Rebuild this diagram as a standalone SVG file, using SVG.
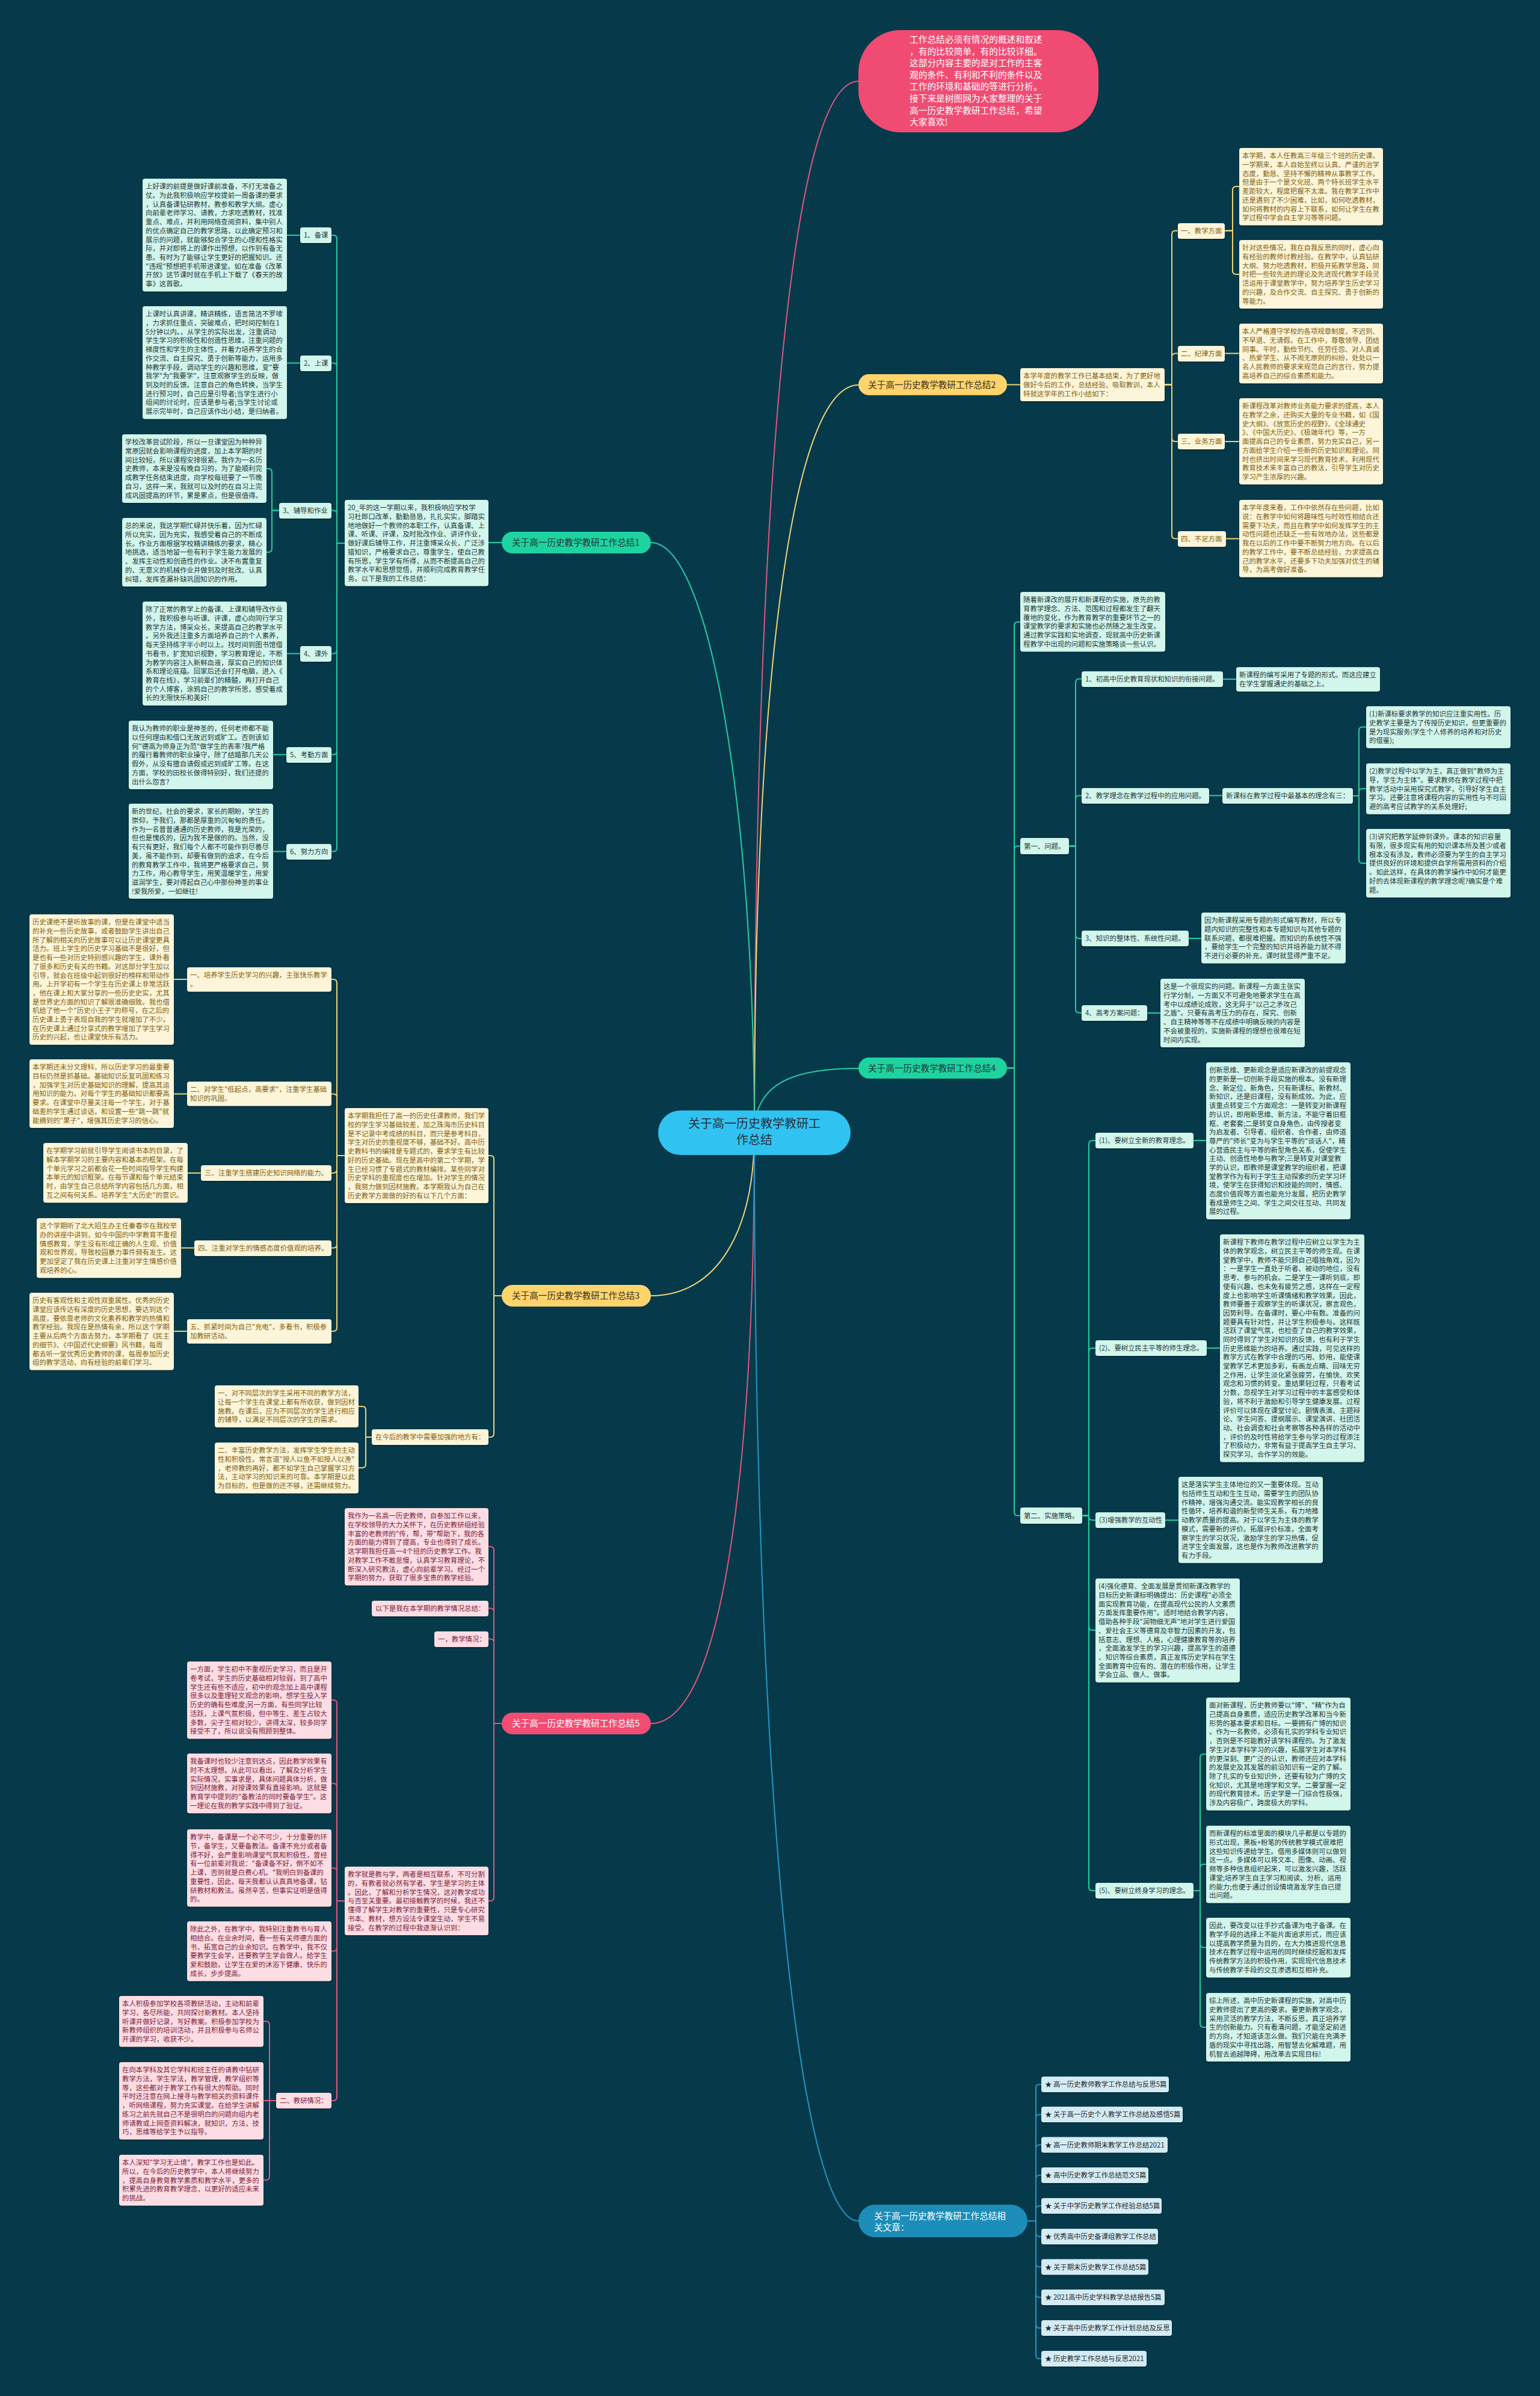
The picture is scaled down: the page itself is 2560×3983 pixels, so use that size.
<svg xmlns="http://www.w3.org/2000/svg" width="2560" height="3983" viewBox="0 0 2560 3983">
<defs>
<filter id="sh" x="-5%" y="-5%" width="110%" height="115%"><feDropShadow dx="0" dy="1.5" stdDeviation="1" flood-color="#000" flood-opacity="0.35"/></filter>
<style>
text{font-family:"Noto Sans CJK SC","Microsoft YaHei","Liberation Sans",sans-serif}
.t{font-size:11.4px}
.bg{fill:#D2F5EC;filter:url(#sh)}.by{fill:#FDF5D9;filter:url(#sh)}.bp{fill:#FDDDE4;filter:url(#sh)}.bb{fill:#D4EBF3;filter:url(#sh)}
.tg{fill:#263838}.ty{fill:#7D600F}.tp{fill:#7A2238}.tb{fill:#1E2A30}
.c{fill:none;stroke-width:2}
.cg{stroke:#29CCA0}.cy{stroke:#EFD27A}.cp{stroke:#E0557F}.cb{stroke:#2796C4}
.lab{font-size:14.6px}
</style>
</defs>
<rect width="2560" height="3983" fill="#063A4B"/>
<g id="connectors">
<path class="c cp" d="M1254,1883 C1254,1000 1300,135 1427,135"/>
<path class="c cy" d="M1254,1883 C1254,1100 1320,640 1427,640"/>
<path class="c cg" d="M1254,1883 C1254,1350 1180,902 1082,902"/>
<path class="c cg" d="M1254,1883 C1254,1800 1320,1776 1427,1776"/>
<path class="c cy" d="M1254,1883 C1254,2050 1190,2154 1082,2154"/>
<path class="c cp" d="M1254,1883 C1254,2450 1200,2865 1082,2865"/>
<path class="c cb" d="M1254,1883 C1254,3000 1330,3692 1427,3692"/>
<g class="c cg">
<path d="M834,902 H812"/>
<path d="M573,903 H560 V397 Q560,391 554,391 H551"/>
<path d="M573,903 H560 V609.5 Q560,603.5 554,603.5 H551"/>
<path d="M573,903 H560 V854.5 Q560,848.5 554,848.5 H551"/>
<path d="M573,903 H560 V1080.5 Q560,1086.5 554,1086.5 H551"/>
<path d="M573,903 H560 V1248.5 Q560,1254.5 554,1254.5 H551"/>
<path d="M573,903 H560 V1409.5 Q560,1415.5 554,1415.5 H551"/>
<path d="M499,391 H477"/>
<path d="M499,603.5 H477"/>
<path d="M464,848.5 H452 V785 Q452,779 446,779 H443"/>
<path d="M464,848.5 H452 V912 Q452,918 446,918 H443"/>
<path d="M499,1086.5 H477"/>
<path d="M476,1254.5 H454"/>
<path d="M476,1415.5 H454"/>
<path d="M1674,1775.5 H1686 V1040 Q1686,1034 1692,1034 H1696"/>
<path d="M1674,1775.5 H1686 V1412.5 Q1686,1406.5 1692,1406.5 H1696"/>
<path d="M1674,1775.5 H1686 V2513.5 Q1686,2519.5 1692,2519.5 H1696"/>
<path d="M1777,1406.5 H1788 V1134.5 Q1788,1128.5 1794,1128.5 H1798"/>
<path d="M1777,1406.5 H1788 V1328.5 Q1788,1322.5 1794,1322.5 H1798"/>
<path d="M1777,1406.5 H1788 V1554 Q1788,1560 1794,1560 H1798"/>
<path d="M1777,1406.5 H1788 V1677.5 Q1788,1683.5 1794,1683.5 H1798"/>
<path d="M2033,1129 H2055"/>
<path d="M2010,1322.5 H2032"/>
<path d="M2249,1323 H2259 V1214.5 Q2259,1208.5 2265,1208.5 H2271"/>
<path d="M2249,1323 H2259 V1317 Q2259,1311 2265,1311 H2271"/>
<path d="M2249,1323 H2259 V1429 Q2259,1435 2265,1435 H2271"/>
<path d="M1976,1560 H1997"/>
<path d="M1907,1684 H1929"/>
<path d="M1799,2519.5 H1810 V1902 Q1810,1896 1816,1896 H1821"/>
<path d="M1799,2519.5 H1810 V2247 Q1810,2241 1816,2241 H1821"/>
<path d="M1799,2519.5 H1810 V2521 Q1810,2527 1816,2527 H1821"/>
<path d="M1799,2519.5 H1810 V2704 Q1810,2710 1816,2710 H1821"/>
<path d="M1799,2519.5 H1810 V3137 Q1810,3143 1816,3143 H1821"/>
<path d="M1984,1896 H2005"/>
<path d="M2006,2241 H2028"/>
<path d="M1937,2527 H1959"/>
<path d="M1984,3143 H1995 V2922 Q1995,2916 2001,2916 H2005"/>
<path d="M1984,3143 H1995 V3105 Q1995,3099 2001,3099 H2005"/>
<path d="M1984,3143 H1995 V3231.5 Q1995,3237.5 2001,3237.5 H2005"/>
<path d="M1984,3143 H1995 V3364 Q1995,3370 2001,3370 H2005"/>
</g>
<g class="c cy">
<path d="M1674,639.5 H1696"/>
<path d="M1936,639.5 H1948 V389.5 Q1948,383.5 1954,383.5 H1958"/>
<path d="M1936,639.5 H1948 V593.5 Q1948,587.5 1954,587.5 H1958"/>
<path d="M1936,639.5 H1948 V728 Q1948,734 1954,734 H1958"/>
<path d="M1936,639.5 H1948 V889.5 Q1948,895.5 1954,895.5 H1958"/>
<path d="M2036,383.5 H2049 V316 Q2049,310 2055,310 H2060"/>
<path d="M2036,383.5 H2049 V450 Q2049,456 2055,456 H2060"/>
<path d="M2036,587.5 H2060"/>
<path d="M2036,734 H2060"/>
<path d="M2038,895.5 H2060"/>
<path d="M834,2154 H821 V1927 Q821,1921 815,1921 H812"/>
<path d="M834,2154 H821 V2383 Q821,2389 815,2389 H812"/>
<path d="M573,1921 H560 V1634 Q560,1628 554,1628 H551"/>
<path d="M573,1921 H560 V1824.5 Q560,1818.5 554,1818.5 H551"/>
<path d="M573,1921 H560 V1944 Q560,1950 554,1950 H551"/>
<path d="M573,1921 H560 V2068.5 Q560,2074.5 554,2074.5 H551"/>
<path d="M573,1921 H560 V2207 Q560,2213 554,2213 H551"/>
<path d="M311,1628 H289"/>
<path d="M311,1818.5 H289"/>
<path d="M334,1950 H312"/>
<path d="M323,2074.5 H301"/>
<path d="M311,2213 H289"/>
<path d="M618,2389 H608 V2344 Q608,2338 602,2338 H596"/>
<path d="M618,2389 H608 V2434 Q608,2440 602,2440 H596"/>
</g>
<g class="c cp">
<path d="M834,2865 H821 V2577 Q821,2571 815,2571 H812"/>
<path d="M834,2865 H821 V2679.5 Q821,2673.5 815,2673.5 H812"/>
<path d="M834,2865 H821 V2730.5 Q821,2724.5 815,2724.5 H812"/>
<path d="M834,2865 H821 V3154 Q821,3160 815,3160 H812"/>
<path d="M573,3160 H560 V2832 Q560,2826 554,2826 H551"/>
<path d="M573,3160 H560 V2970.6 Q560,2964.6 554,2964.6 H551"/>
<path d="M573,3160 H560 V3111.3 Q560,3105.3 554,3105.3 H551"/>
<path d="M573,3160 H560 V3237.6 Q560,3243.6 554,3243.6 H551"/>
<path d="M573,3160 H560 V3486 Q560,3492 554,3492 H551"/>
<path d="M459,3492 H448 V3366 Q448,3360 442,3360 H438"/>
<path d="M459,3492 H438"/>
<path d="M459,3492 H448 V3618 Q448,3624 442,3624 H438"/>
</g>
<g class="c cb">
<path d="M1708,3692 H1722 V3471 Q1722,3465 1728,3465 H1731"/>
<path d="M1708,3692 H1722 V3521 Q1722,3515 1728,3515 H1731"/>
<path d="M1708,3692 H1722 V3571.5 Q1722,3565.5 1728,3565.5 H1731"/>
<path d="M1708,3692 H1722 V3622 Q1722,3616 1728,3616 H1731"/>
<path d="M1708,3692 H1722 V3673 Q1722,3667 1728,3667 H1731"/>
<path d="M1708,3692 H1722 V3712 Q1722,3718 1728,3718 H1731"/>
<path d="M1708,3692 H1722 V3762.5 Q1722,3768.5 1728,3768.5 H1731"/>
<path d="M1708,3692 H1722 V3813 Q1722,3819 1728,3819 H1731"/>
<path d="M1708,3692 H1722 V3864 Q1722,3870 1728,3870 H1731"/>
<path d="M1708,3692 H1722 V3915 Q1722,3921 1728,3921 H1731"/>
</g>
</g>

<g id="n_center"><rect x="1094" y="1846" width="320" height="74" rx="37" fill="#30C3F2"/><text x="1254" y="1875" font-size="20" text-anchor="middle" fill="#2A3038">关于高一历史教学教研工<tspan x="1254" dy="27">作总结</tspan></text></g>

<g id="n_top"><rect x="1427" y="50" width="399" height="170" rx="70" fill="#F04B72"/><text x="1512" y="71" font-size="14.7" fill="#FFFFFF"><tspan x="1512">工作总结必须有情况的概述和叙述</tspan><tspan x="1512" dy="19.6">，有的比较简单，有的比较详细。</tspan><tspan x="1512" dy="19.6">这部分内容主要的是对工作的主客</tspan><tspan x="1512" dy="19.6">观的条件、有利和不利的条件以及</tspan><tspan x="1512" dy="19.6">工作的环境和基础的等进行分析。</tspan><tspan x="1512" dy="19.6">接下来是树图网为大家整理的关于</tspan><tspan x="1512" dy="19.6">高一历史教学教研工作总结，希望</tspan><tspan x="1512" dy="19.6">大家喜欢!</tspan></text></g>

<g id="b1"><rect x="834" y="884" width="248" height="36" rx="18" fill="#1ED3A0"/><text class="lab" x="851" y="907" fill="#1F3535">关于高一历史教学教研工作总结1</text></g>
<g id="b2"><rect x="1427" y="622" width="247" height="35" rx="17.5" fill="#FFD46C"/><text class="lab" x="1443" y="644.5" fill="#3A3020">关于高一历史教学教研工作总结2</text></g>
<g id="b3"><rect x="834" y="2136" width="248" height="36" rx="18" fill="#FFD46C"/><text class="lab" x="851" y="2159" fill="#3A3020">关于高一历史教学教研工作总结3</text></g>
<g id="b4"><rect x="1427" y="1758" width="247" height="35" rx="17.5" fill="#1ED3A0"/><text class="lab" x="1443" y="1780.5" fill="#1F3535">关于高一历史教学教研工作总结4</text></g>
<g id="b5"><rect x="834" y="2847" width="248" height="36" rx="18" fill="#F24C72"/><text class="lab" x="851" y="2870" fill="#FFFFFF">关于高一历史教学教研工作总结5</text></g>
<g id="b6"><rect x="1427" y="3665" width="281" height="54" rx="27" fill="#1C8DB8"/><text class="lab" x="1453" y="3689" fill="#FFFFFF">关于高一历史教学教研工作总结相<tspan x="1453" dy="19">关文章：</tspan></text></g>

<!-- Branch 1 -->
<g id="b1_intro" transform="translate(573,831)"><rect class="bg" width="239" height="143.3" rx="4"/><text class="t tg" y="17.3"><tspan x="5">20_年的这一学期以来，我积极响应学校学</tspan><tspan x="5" dy="14.7">习杜郎口改革，勤勤恳恳，扎扎实实，脚踏实</tspan><tspan x="5" dy="14.7">地地做好一个教师的本职工作，认真备课、上</tspan><tspan x="5" dy="14.7">课、听课、评课，及时批改作业、讲评作业，</tspan><tspan x="5" dy="14.7">做好课后辅导工作，并注重博采众长，广泛涉</tspan><tspan x="5" dy="14.7">猎知识，严格要求自己，尊重学生，使自己教</tspan><tspan x="5" dy="14.7">有所思，学生学有所得，从而不断提高自己的</tspan><tspan x="5" dy="14.7">教学水平和思想觉悟，并顺利完成教育教学任</tspan><tspan x="5" dy="14.7">务。以下是我的工作总结：</tspan></text></g>
<g id="b1_1" transform="translate(499,378)"><rect class="bg" width="52" height="26" rx="4"/><text class="t tg" x="6" y="17.3">1、备课</text></g>
<g id="b1_2" transform="translate(499,591)"><rect class="bg" width="52" height="26" rx="4"/><text class="t tg" x="6" y="17.3">2、上课</text></g>
<g id="b1_3" transform="translate(464,836)"><rect class="bg" width="87" height="26" rx="4"/><text class="t tg" x="6" y="17.3">3、辅导和作业</text></g>
<g id="b1_4" transform="translate(499,1074)"><rect class="bg" width="52" height="26" rx="4"/><text class="t tg" x="6" y="17.3">4、课外</text></g>
<g id="b1_5" transform="translate(476,1242)"><rect class="bg" width="75" height="26" rx="4"/><text class="t tg" x="6" y="17.3">5、考勤方面</text></g>
<g id="b1_6" transform="translate(476,1403)"><rect class="bg" width="75" height="26" rx="4"/><text class="t tg" x="6" y="17.3">6、努力方向</text></g>
<g id="b1_1a" transform="translate(237,297)"><rect class="bg" width="240" height="187.4" rx="4"/><text class="t tg" y="17.3"><tspan x="5">上好课的前提是做好课前准备，不打无准备之</tspan><tspan x="5" dy="14.7">仗。为此我积极响应学校提前一周备课的要求</tspan><tspan x="5" dy="14.7">，认真备课钻研教材，教参和教学大纲。虚心</tspan><tspan x="5" dy="14.7">向前辈老师学习、请教，力求吃透教材，找准</tspan><tspan x="5" dy="14.7">重点、难点，并利用网络查阅资料，集中别人</tspan><tspan x="5" dy="14.7">的优点确定自己的教学思路，以此确定预习和</tspan><tspan x="5" dy="14.7">展示的问题，就能够契合学生的心理和性格实</tspan><tspan x="5" dy="14.7">际，并对即将上的课作出预想，以作到有备无</tspan><tspan x="5" dy="14.7">患。有时为了能够让学生更好的把握知识。还</tspan><tspan x="5" dy="14.7">"违规"预想把手机带进课堂。如在准备《改革</tspan><tspan x="5" dy="14.7">开放》这节课时就在手机上下载了《春天的故</tspan><tspan x="5" dy="14.7">事》这首歌。</tspan></text></g>
<g id="b1_2a" transform="translate(237,509)"><rect class="bg" width="240" height="187.4" rx="4"/><text class="t tg" y="17.3"><tspan x="5">上课时认真讲课，精讲精练，语言简洁不罗嗦</tspan><tspan x="5" dy="14.7">，力求抓住重点，突破难点，把时间控制在1</tspan><tspan x="5" dy="14.7">5分钟以内。，从学生的实际出发，注重调动</tspan><tspan x="5" dy="14.7">学生学习的积极性和创造性思维，注重问题的</tspan><tspan x="5" dy="14.7">梯度性和学生的主体性，并着力培养学生的合</tspan><tspan x="5" dy="14.7">作交流、自主探究、勇于创新等能力，运用多</tspan><tspan x="5" dy="14.7">种教学手段，调动学生的兴趣和思维，变"要</tspan><tspan x="5" dy="14.7">我学"为"我要学"，注意观察学生的反映，做</tspan><tspan x="5" dy="14.7">到及时的反馈。注意自己的角色转换，当学生</tspan><tspan x="5" dy="14.7">进行预习时，自己应是引导者;当学生进行小</tspan><tspan x="5" dy="14.7">组间的讨论时，应该是参与者;当学生讨论或</tspan><tspan x="5" dy="14.7">展示完毕时，自己应该作出小结，是归纳者。</tspan></text></g>
<g id="b1_3a" transform="translate(203,722)"><rect class="bg" width="240" height="113.9" rx="4"/><text class="t tg" y="17.3"><tspan x="5">学校改革尝试阶段，所以一旦课堂因为种种异</tspan><tspan x="5" dy="14.7">常原因就会影响课程的进度，加上本学期的时</tspan><tspan x="5" dy="14.7">间比较短，所以课程安排很紧。我作为一名历</tspan><tspan x="5" dy="14.7">史教师，本来是没有晚自习的，为了能顺利完</tspan><tspan x="5" dy="14.7">成教学任务结束进度，向学校每班要了一节晚</tspan><tspan x="5" dy="14.7">自习，这样一来，我就可以及时的在自习上完</tspan><tspan x="5" dy="14.7">成巩固提高的环节，累是累点，但是很值得。</tspan></text></g>
<g id="b1_3b" transform="translate(203,861)"><rect class="bg" width="240" height="113.9" rx="4"/><text class="t tg" y="17.3"><tspan x="5">总的来说，我这学期忙碌并快乐着，因为忙碌</tspan><tspan x="5" dy="14.7">所以充实，因为充实，我感受着自己的不断成</tspan><tspan x="5" dy="14.7">长。作业方面根据学校精讲精练的要求，精心</tspan><tspan x="5" dy="14.7">地挑选，适当地留一些有利于学生能力发展的</tspan><tspan x="5" dy="14.7">、发挥主动性和创造性的作业。决不布置重复</tspan><tspan x="5" dy="14.7">的、无意义的机械作业并做到及时批改、认真</tspan><tspan x="5" dy="14.7">纠错，发挥查漏补缺巩固知识的作用。</tspan></text></g>
<g id="b1_4a" transform="translate(237,1000)"><rect class="bg" width="240" height="172.7" rx="4"/><text class="t tg" y="17.3"><tspan x="5">除了正常的教学上的备课、上课和辅导改作业</tspan><tspan x="5" dy="14.7">外，我积极参与听课、评课，虚心向同行学习</tspan><tspan x="5" dy="14.7">教学方法，博采众长，来提高自己的教学水平</tspan><tspan x="5" dy="14.7">。另外我还注重多方面培养自己的个人素养，</tspan><tspan x="5" dy="14.7">每天坚持练字半小时以上。找时间到图书馆借</tspan><tspan x="5" dy="14.7">书看书，扩宽知识视野，学习教育理论，不断</tspan><tspan x="5" dy="14.7">为教学内容注入新鲜血液，厚实自己的知识体</tspan><tspan x="5" dy="14.7">系和理论底蕴。回家后还会打开电脑，进入《</tspan><tspan x="5" dy="14.7">教育在线》，学习前辈们的精髓，再打开自己</tspan><tspan x="5" dy="14.7">的个人博客，涂鸦自己的教学所思，感受着成</tspan><tspan x="5" dy="14.7">长的无限快乐和美好!</tspan></text></g>
<g id="b1_5a" transform="translate(214,1198)"><rect class="bg" width="240" height="113.9" rx="4"/><text class="t tg" y="17.3"><tspan x="5">我认为教师的职业是神圣的，任何老师都不能</tspan><tspan x="5" dy="14.7">以任何理由和借口无故迟到或旷工。否则该如</tspan><tspan x="5" dy="14.7">何"德高为师身正为范"做学生的表率?我严格</tspan><tspan x="5" dy="14.7">的履行着教师的职业操守，除了结婚那几天公</tspan><tspan x="5" dy="14.7">假外，从没有擅自请假或迟到或旷工等。在这</tspan><tspan x="5" dy="14.7">方面，学校的田校长做得特别好，我们还提的</tspan><tspan x="5" dy="14.7">出什么怨言?</tspan></text></g>
<g id="b1_6a" transform="translate(214,1336)"><rect class="bg" width="240" height="158" rx="4"/><text class="t tg" y="17.3"><tspan x="5">新的世纪，社会的要求，家长的期盼，学生的</tspan><tspan x="5" dy="14.7">崇仰，予我们，那都是厚重的沉甸甸的责任。</tspan><tspan x="5" dy="14.7">作为一名普普通通的历史教师，我是光荣的，</tspan><tspan x="5" dy="14.7">但也是愧疚的，因为我不是做的的。当然，没</tspan><tspan x="5" dy="14.7">有只有更好，我们每个人都不可能作到尽善尽</tspan><tspan x="5" dy="14.7">美，虽不能作到，却要有做到的追求，在今后</tspan><tspan x="5" dy="14.7">的教育教学工作中，我将更严格要求自己，努</tspan><tspan x="5" dy="14.7">力工作，用心教导学生，用笑温暖学生，用爱</tspan><tspan x="5" dy="14.7">滋润学生，要对得起自己心中那份神圣的事业</tspan><tspan x="5" dy="14.7">!爱我所爱，一如继往!</tspan></text></g>

<!-- Branch 2 -->
<g id="b2_intro" transform="translate(1696,612)"><rect class="by" width="240" height="55" rx="4"/><text class="t ty" y="17.3"><tspan x="5">本学年度的教学工作已基本结束，为了更好地</tspan><tspan x="5" dy="14.7">做好今后的工作，总结经验、吸取教训，本人</tspan><tspan x="5" dy="14.7">特就这学年的工作小结如下：</tspan></text></g>
<g id="b2_1" transform="translate(1958,371)"><rect class="by" width="78" height="26" rx="4"/><text class="t ty" x="5" y="17.3">一、教学方面</text></g>
<g id="b2_2" transform="translate(1958,575)"><rect class="by" width="78" height="26" rx="4"/><text class="t ty" x="5" y="17.3">二、纪律方面</text></g>
<g id="b2_3" transform="translate(1958,721)"><rect class="by" width="78" height="26" rx="4"/><text class="t ty" x="5" y="17.3">三、业务方面</text></g>
<g id="b2_4" transform="translate(1958,883)"><rect class="by" width="80" height="26" rx="4"/><text class="t ty" x="5" y="17.3">四、不足方面</text></g>
<g id="b2_1a" transform="translate(2060,246)"><rect class="by" width="239" height="128.6" rx="4"/><text class="t ty" y="17.3"><tspan x="5">本学期，本人任教高三年级三个班的历史课。</tspan><tspan x="5" dy="14.7">一学期来，本人自始至终以认真、严谨的治学</tspan><tspan x="5" dy="14.7">态度，勤恳、坚持不懈的精神从事教学工作。</tspan><tspan x="5" dy="14.7">但是由于一个是文化班、两个特长班学生水平</tspan><tspan x="5" dy="14.7">差距较大，程度把握不太准。我在教学工作中</tspan><tspan x="5" dy="14.7">还是遇到了不少困难，比如，如何吃透教材，</tspan><tspan x="5" dy="14.7">如何将教材的内容上下联系，如何让学生在教</tspan><tspan x="5" dy="14.7">学过程中学会自主学习等等问题。</tspan></text></g>
<g id="b2_1b" transform="translate(2060,399)"><rect class="by" width="239" height="113.9" rx="4"/><text class="t ty" y="17.3"><tspan x="5">针对这些情况，我在自我反思的同时，虚心向</tspan><tspan x="5" dy="14.7">有经验的教师讨教经验。在教学中，认真钻研</tspan><tspan x="5" dy="14.7">大纲、努力吃透教材，积极开拓教学思路，同</tspan><tspan x="5" dy="14.7">时把一些较先进的理论及先进现代教学手段灵</tspan><tspan x="5" dy="14.7">活运用于课堂教学中，努力培养学生历史学习</tspan><tspan x="5" dy="14.7">的兴趣，及合作交流、自主探究、勇于创新的</tspan><tspan x="5" dy="14.7">等能力。</tspan></text></g>
<g id="b2_2a" transform="translate(2060,538)"><rect class="by" width="239" height="99.2" rx="4"/><text class="t ty" y="17.3"><tspan x="5">本人严格遵守学校的各项规章制度，不迟到、</tspan><tspan x="5" dy="14.7">不早退、无请假。在工作中，尊敬领导、团结</tspan><tspan x="5" dy="14.7">同事。平时，勤俭节约、任劳任怨、对人真诚</tspan><tspan x="5" dy="14.7">、热爱学生、从不闹无原则的纠纷，处处以一</tspan><tspan x="5" dy="14.7">名人民教师的要求来规范自己的言行，努力提</tspan><tspan x="5" dy="14.7">高培养自己的综合素质和能力。</tspan></text></g>
<g id="b2_3a" transform="translate(2060,662)"><rect class="by" width="239" height="143.3" rx="4"/><text class="t ty" y="17.3"><tspan x="5">新课程改革对教师业务能力要求的提高，本人</tspan><tspan x="5" dy="14.7">在教学之余，还购买大量的专业书籍，如《国</tspan><tspan x="5" dy="14.7">史大纲》、《放宽历史的视野》、《全球通史</tspan><tspan x="5" dy="14.7">》、《中国大历史》、《极端年代》等，一方</tspan><tspan x="5" dy="14.7">面提高自己的专业素质，努力充实自己，另一</tspan><tspan x="5" dy="14.7">方面给学生介绍一些新的历史知识和理论。同</tspan><tspan x="5" dy="14.7">时也挤出时间来学习现代教育技术，利用现代</tspan><tspan x="5" dy="14.7">教育技术来丰富自己的教法，引导学生对历史</tspan><tspan x="5" dy="14.7">学习产生浓厚的兴趣。</tspan></text></g>
<g id="b2_4a" transform="translate(2060,831)"><rect class="by" width="239" height="128.6" rx="4"/><text class="t ty" y="17.3"><tspan x="5">本学年度来看，工作中依然存在些问题，比如</tspan><tspan x="5" dy="14.7">说：在教学中如何将趣味性与时效性相结合还</tspan><tspan x="5" dy="14.7">需要下功夫，而且在教学中如何发挥学生的主</tspan><tspan x="5" dy="14.7">动性问题也还缺乏一些有效地办法，这些都是</tspan><tspan x="5" dy="14.7">我在以后的工作中要不断努力地方向。在以后</tspan><tspan x="5" dy="14.7">的教学工作中，要不断总结经验，力求提高自</tspan><tspan x="5" dy="14.7">己的教学水平，还要多下功夫加强对优生的辅</tspan><tspan x="5" dy="14.7">导，为高考做好准备。</tspan></text></g>

<!-- Branch 3 -->
<g id="b3_intro" transform="translate(573,1842)"><rect class="by" width="239" height="158" rx="4"/><text class="t ty" y="17.3"><tspan x="5">本学期我担任了高一的历史任课教师，我们学</tspan><tspan x="5" dy="14.7">校的学生学习基础较差，加之珠海市历史科目</tspan><tspan x="5" dy="14.7">是不记录中考成绩的科目，而只是参考科目，</tspan><tspan x="5" dy="14.7">学生对历史的重视度不够，基础不好。高中历</tspan><tspan x="5" dy="14.7">史教科书的编排是专题式的，要求学生有比较</tspan><tspan x="5" dy="14.7">好的历史基础。现在是高中的第二个学期，学</tspan><tspan x="5" dy="14.7">生已经习惯了专题式的教材编排。某些同学对</tspan><tspan x="5" dy="14.7">历史学科的重视度也在增加。针对学生的情况</tspan><tspan x="5" dy="14.7">，我努力做到因材施教。本学期我认为自己在</tspan><tspan x="5" dy="14.7">历史教学方面做的好的有以下几个方面：</tspan></text></g>
<g id="b3_1" transform="translate(311,1608)"><rect class="by" width="240" height="40.4" rx="4"/><text class="t ty" y="17.3"><tspan x="5">一、培养学生历史学习的兴趣，主张快乐教学</tspan><tspan x="5" dy="14.7">。</tspan></text></g>
<g id="b3_2" transform="translate(311,1798)"><rect class="by" width="240" height="40.4" rx="4"/><text class="t ty" y="17.3"><tspan x="5">二、对学生"低起点，高要求"，注重学生基础</tspan><tspan x="5" dy="14.7">知识的巩固。</tspan></text></g>
<g id="b3_3" transform="translate(334,1937)"><rect class="by" width="217" height="26" rx="4"/><text class="t ty" x="6" y="17.3">三、注重学生搭建历史知识网络的能力。</text></g>
<g id="b3_4" transform="translate(323,2062)"><rect class="by" width="228" height="26" rx="4"/><text class="t ty" x="6" y="17.3">四、注重对学生的情感态度价值观的培养。</text></g>
<g id="b3_5" transform="translate(311,2193)"><rect class="by" width="240" height="40.4" rx="4"/><text class="t ty" y="17.3"><tspan x="5">五、抓紧时间为自己"充电"，多看书，积极参</tspan><tspan x="5" dy="14.7">加教研活动。</tspan></text></g>
<g id="b3_6" transform="translate(618,2376)"><rect class="by" width="194" height="26" rx="4"/><text class="t ty" x="6" y="17.3">在今后的教学中需要加强的地方有：</text></g>
<g id="b3_1a" transform="translate(49,1520)"><rect class="by" width="240" height="216.8" rx="4"/><text class="t ty" y="17.3"><tspan x="5">历史课绝不是听故事的课，但是在课堂中适当</tspan><tspan x="5" dy="14.7">的补充一些历史故事，或者鼓励学生讲出自己</tspan><tspan x="5" dy="14.7">所了解的相关的历史故事可以让历史课堂更具</tspan><tspan x="5" dy="14.7">活力。班上学生的历史学习基础不是很好，但</tspan><tspan x="5" dy="14.7">是也有一些对历史特别感兴趣的学生，课外看</tspan><tspan x="5" dy="14.7">了很多和历史有关的书籍。对这部分学生加以</tspan><tspan x="5" dy="14.7">引导，就会在班级中起到很好的榜样和带动作</tspan><tspan x="5" dy="14.7">用。上开学初有一个学生在历史课上非常活跃</tspan><tspan x="5" dy="14.7">，他在课上和大家分享的一些历史史实，尤其</tspan><tspan x="5" dy="14.7">是世界史方面的知识了解很准确细致。我也借</tspan><tspan x="5" dy="14.7">机给了他一个"历史小王子"的称号，在之后的</tspan><tspan x="5" dy="14.7">历史课上勇于表现自我的学生就增加了不少。</tspan><tspan x="5" dy="14.7">在历史课上通过分享式的教学增加了学生学习</tspan><tspan x="5" dy="14.7">历史的兴起，也让课堂快乐有活力。</tspan></text></g>
<g id="b3_2a" transform="translate(49,1761)"><rect class="by" width="240" height="113.9" rx="4"/><text class="t ty" y="17.3"><tspan x="5">本学期还未分文理科，所以历史学习的最重要</tspan><tspan x="5" dy="14.7">目标仍然是抓基础。基础知识反复巩固和练习</tspan><tspan x="5" dy="14.7">，加强学生对历史基础知识的理解，提高其运</tspan><tspan x="5" dy="14.7">用知识的能力。对每个学生的基础知识都要高</tspan><tspan x="5" dy="14.7">要求。在课堂中尽量关注每一个学生，对于基</tspan><tspan x="5" dy="14.7">础差的学生通过谈话，和设置一些"跳一跳"就</tspan><tspan x="5" dy="14.7">能摘到的"果子"，增强其历史学习的信心。</tspan></text></g>
<g id="b3_3a" transform="translate(72,1900)"><rect class="by" width="240" height="99.2" rx="4"/><text class="t ty" y="17.3"><tspan x="5">在学期学习前就引导学生阅读书本的目录，了</tspan><tspan x="5" dy="14.7">解本学期学习的主要内容和基本的框架。在每</tspan><tspan x="5" dy="14.7">个单元学习之前都会花一些时间指导学生构建</tspan><tspan x="5" dy="14.7">本单元的知识框架。在每节课和每个单元结束</tspan><tspan x="5" dy="14.7">时，由学生自己总结所学内容包括几方面，相</tspan><tspan x="5" dy="14.7">互之间有何关系。培养学生"大历史"的意识。</tspan></text></g>
<g id="b3_4a" transform="translate(61,2025)"><rect class="by" width="240" height="99.2" rx="4"/><text class="t ty" y="17.3"><tspan x="5">这个学期听了北大招生办主任秦春华在我校举</tspan><tspan x="5" dy="14.7">办的讲座中讲到，如今中国的中学教育不重视</tspan><tspan x="5" dy="14.7">情感教育，学生没有形成正确的人生观、价值</tspan><tspan x="5" dy="14.7">观和世界观，导致校园暴力事件频有发生。这</tspan><tspan x="5" dy="14.7">更加坚定了我在历史课上注重对学生情感价值</tspan><tspan x="5" dy="14.7">观培养的心。</tspan></text></g>
<g id="b3_5a" transform="translate(49,2149)"><rect class="by" width="240" height="128.6" rx="4"/><text class="t ty" y="17.3"><tspan x="5">历史有客观性和主观性双重属性。优秀的历史</tspan><tspan x="5" dy="14.7">课堂应该传达有深度的历史思想，要达到这个</tspan><tspan x="5" dy="14.7">高度，要依靠老师的文化素养和教学的热情和</tspan><tspan x="5" dy="14.7">教学经验。我现在是热情有余，所以这个学期</tspan><tspan x="5" dy="14.7">主要从后两个方面去努力，本学期看了《民主</tspan><tspan x="5" dy="14.7">的细节》、《中国近代史纲要》风书籍，每周</tspan><tspan x="5" dy="14.7">都去听一堂优秀历史教师的课，每周参加历史</tspan><tspan x="5" dy="14.7">组的教学活动，向有经验的前辈们学习。</tspan></text></g>
<g id="b3_6a" transform="translate(357,2303)"><rect class="by" width="239" height="69.8" rx="4"/><text class="t ty" y="17.3"><tspan x="5">一、对不同层次的学生采用不同的教学方法，</tspan><tspan x="5" dy="14.7">让每一个学生在课堂上都有所收获，做到因材</tspan><tspan x="5" dy="14.7">施教。在课后，应为不同层次的学生进行相应</tspan><tspan x="5" dy="14.7">的辅导，以满足不同层次的学生的需求。</tspan></text></g>
<g id="b3_6b" transform="translate(357,2398)"><rect class="by" width="239" height="84.5" rx="4"/><text class="t ty" y="17.3"><tspan x="5">二、丰富历史教学方法，发挥学生学生的主动</tspan><tspan x="5" dy="14.7">性和积极性。常言道"授人以鱼不如授人以渔"</tspan><tspan x="5" dy="14.7">，老师教的再好，都不如学生自己掌握学习方</tspan><tspan x="5" dy="14.7">法，主动学习的知识来的可靠。本学期是以此</tspan><tspan x="5" dy="14.7">为目标的，但是做的还不够，还需继续努力。</tspan></text></g>

<!-- Branch 4 -->
<g id="b4_intro" transform="translate(1696,984)"><rect class="bg" width="241" height="99.2" rx="4"/><text class="t tg" y="17.3"><tspan x="5">随着新课改的展开和新课程的实施，原先的教</tspan><tspan x="5" dy="14.7">育教学理念、方法、范围和过程都发生了翻天</tspan><tspan x="5" dy="14.7">覆地的变化，作为教育教学的重要环节之一的</tspan><tspan x="5" dy="14.7">课堂教学的要求和实施也必然随之发生改变。</tspan><tspan x="5" dy="14.7">通过教学实践和实地调查，现就高中历史新课</tspan><tspan x="5" dy="14.7">程教学中出现的问题和实施策略谈一些认识。</tspan></text></g>
<g id="b4_p1" transform="translate(1696,1393)"><rect class="bg" width="81" height="27" rx="4"/><text class="t tg" x="6" y="17.8">第一、问题。</text></g>
<g id="b4_p2" transform="translate(1696,2506)"><rect class="bg" width="103" height="27" rx="4"/><text class="t tg" x="6" y="17.8">第二、实施策略。</text></g>
<g id="b4_q1" transform="translate(1798,1116)"><rect class="bg" width="235" height="26" rx="4"/><text class="t tg" x="6" y="17.3">1、初高中历史教育现状和知识的衔接问题。</text></g>
<g id="b4_q2" transform="translate(1798,1310)"><rect class="bg" width="212" height="26" rx="4"/><text class="t tg" x="6" y="17.3">2、教学理念在教学过程中的应用问题。</text></g>
<g id="b4_q3" transform="translate(1798,1547)"><rect class="bg" width="178" height="26" rx="4"/><text class="t tg" x="6" y="17.3">3、知识的整体性、系统性问题。</text></g>
<g id="b4_q4" transform="translate(1798,1671)"><rect class="bg" width="109" height="26" rx="4"/><text class="t tg" x="6" y="17.3">4、高考方案问题：</text></g>
<g id="b4_q1a" transform="translate(2055,1109)"><rect class="bg" width="239" height="40.4" rx="4"/><text class="t tg" y="17.3"><tspan x="5">新课程的编写采用了专题的形式。而这应建立</tspan><tspan x="5" dy="14.7">在学生掌握通史的基础之上。</tspan></text></g>
<g id="b4_q2a" transform="translate(2032,1310)"><rect class="bg" width="217" height="26" rx="4"/><text class="t tg" x="6" y="17.3">新课标在教学过程中最基本的理念有三：</text></g>
<g id="b4_q2b" transform="translate(2271,1174)"><rect class="bg" width="240" height="69.8" rx="4"/><text class="t tg" y="17.3"><tspan x="5">(1)新课标要求教学的知识应注重实用性。历</tspan><tspan x="5" dy="14.7">史教学主要是为了传授历史知识，但更重要的</tspan><tspan x="5" dy="14.7">是为现实服务(学生个人修养的培养和对历史</tspan><tspan x="5" dy="14.7">的借鉴);</tspan></text></g>
<g id="b4_q2c" transform="translate(2271,1269)"><rect class="bg" width="240" height="84.5" rx="4"/><text class="t tg" y="17.3"><tspan x="5">(2)教学过程中以学为主，真正做到"教师为主</tspan><tspan x="5" dy="14.7">导，学生为主体"。要求教师在教学过程中把</tspan><tspan x="5" dy="14.7">教学活动中采用探究式教学，引导好学生自主</tspan><tspan x="5" dy="14.7">学习。还要注意将课程内容的实用性与不可回</tspan><tspan x="5" dy="14.7">避的高考应试教学的关系处理好;</tspan></text></g>
<g id="b4_q2d" transform="translate(2271,1378)"><rect class="bg" width="240" height="113.9" rx="4"/><text class="t tg" y="17.3"><tspan x="5">(3)讲究把教学延伸到课外。课本的知识容量</tspan><tspan x="5" dy="14.7">有限，很多现实有用的知识课本所及甚少或者</tspan><tspan x="5" dy="14.7">根本没有涉及，教师必须要为学生的自主学习</tspan><tspan x="5" dy="14.7">提供良好的环境和提供自学所需用资料的介绍</tspan><tspan x="5" dy="14.7">。如此这样，在具体的教学操作中如何才能更</tspan><tspan x="5" dy="14.7">好的去体现新课程的教学理念呢?确实是个难</tspan><tspan x="5" dy="14.7">题。</tspan></text></g>
<g id="b4_q3a" transform="translate(1997,1517)"><rect class="bg" width="240" height="84.5" rx="4"/><text class="t tg" y="17.3"><tspan x="5">因为新课程采用专题的形式编写教材，所以专</tspan><tspan x="5" dy="14.7">题内知识的完整性和本专题知识与其他专题的</tspan><tspan x="5" dy="14.7">联系问题，都很难把握。而知识的系统性不强</tspan><tspan x="5" dy="14.7">，要给学生一个完整的知识并培养能力就不得</tspan><tspan x="5" dy="14.7">不进行必要的补充，课时就显得严重不足。</tspan></text></g>
<g id="b4_q4a" transform="translate(1929,1627)"><rect class="bg" width="240" height="113.9" rx="4"/><text class="t tg" y="17.3"><tspan x="5">这是一个很现实的问题。新课程一方面主张实</tspan><tspan x="5" dy="14.7">行学分制，一方面又不可避免地要求学生在高</tspan><tspan x="5" dy="14.7">考中以成绩论成败，这无异于"以己之矛攻己</tspan><tspan x="5" dy="14.7">之盾"。只要有高考压力的存在，探究、创新</tspan><tspan x="5" dy="14.7">、自主精神等等不在成绩中明确反映的内容是</tspan><tspan x="5" dy="14.7">不会被重视的，实施新课程的理想也很难在短</tspan><tspan x="5" dy="14.7">时间内实现。</tspan></text></g>
<g id="b4_s1" transform="translate(1821,1883)"><rect class="bg" width="163" height="26" rx="4"/><text class="t tg" x="6" y="17.3">(1)、要树立全新的教育理念。</text></g>
<g id="b4_s2" transform="translate(1821,2228)"><rect class="bg" width="185" height="26" rx="4"/><text class="t tg" x="6" y="17.3">(2)、要树立民主平等的师生理念。</text></g>
<g id="b4_s3" transform="translate(1821,2514)"><rect class="bg" width="116" height="26" rx="4"/><text class="t tg" x="6" y="17.3">(3)增强教学的互动性</text></g>
<g id="b4_s5" transform="translate(1821,3130)"><rect class="bg" width="163" height="26" rx="4"/><text class="t tg" x="6" y="17.3">(5)、要树立终身学习的理念。</text></g>
<g id="b4_s1a" transform="translate(2005,1766)"><rect class="bg" width="240" height="260.9" rx="4"/><text class="t tg" y="17.3"><tspan x="5">创新思维、更新观念是适应新课改的前提观念</tspan><tspan x="5" dy="14.7">的更新是一切创新手段实施的根本。没有新理</tspan><tspan x="5" dy="14.7">念、新定位、新角色，只有新课标、新教材、</tspan><tspan x="5" dy="14.7">新知识，还是旧课程，没有新成效。为此，应</tspan><tspan x="5" dy="14.7">该重点转变三个方面观念：一是转变对新课程</tspan><tspan x="5" dy="14.7">的认识，即用新思维、新方法，不能守着旧框</tspan><tspan x="5" dy="14.7">框、老套套;二是转变自身角色，由传授者变</tspan><tspan x="5" dy="14.7">为启发者、引导者、组织者、合作者，由师道</tspan><tspan x="5" dy="14.7">尊严的"师长"变为与学生平等的"谈话人"，精</tspan><tspan x="5" dy="14.7">心营造民主与平等的新型角色关系，促使学生</tspan><tspan x="5" dy="14.7">主动、创造性地参与教学;三是转变对课堂教</tspan><tspan x="5" dy="14.7">学的认识，即教师是课堂教学的组织者，把课</tspan><tspan x="5" dy="14.7">堂教学作为有利于学生主动探索的历史学习环</tspan><tspan x="5" dy="14.7">境，使学生在获得知识和技能的同时，情感、</tspan><tspan x="5" dy="14.7">态度价值观等方面也能充分发展，把历史教学</tspan><tspan x="5" dy="14.7">看成是师生之间、学生之间交往互动、共同发</tspan><tspan x="5" dy="14.7">展的过程。</tspan></text></g>
<g id="b4_s2a" transform="translate(2028,2052)"><rect class="bg" width="240" height="378.5" rx="4"/><text class="t tg" y="17.3"><tspan x="5">新课程下教师在教学过程中应树立以学生为主</tspan><tspan x="5" dy="14.7">体的教学观念，树立民主平等的师生观。在课</tspan><tspan x="5" dy="14.7">堂教学中，教师不能只顾自己唱独角戏，因为</tspan><tspan x="5" dy="14.7">：一是学生一直处于听者、被动的地位，没有</tspan><tspan x="5" dy="14.7">思考、参与的机会。二是学生一课听到底，即</tspan><tspan x="5" dy="14.7">使有兴趣，也未免有疲劳之感，这样在一定程</tspan><tspan x="5" dy="14.7">度上也影响学生听课情绪和教学效果。因此，</tspan><tspan x="5" dy="14.7">教师要善于观察学生的听课状况，察言观色，</tspan><tspan x="5" dy="14.7">因势利导。在备课时，要心中有数。准备的问</tspan><tspan x="5" dy="14.7">题要具有针对性，并让学生积极参与。这样既</tspan><tspan x="5" dy="14.7">活跃了课堂气氛，也检查了自己的教学效果，</tspan><tspan x="5" dy="14.7">同时得到了学生对知识的反馈，也有利于学生</tspan><tspan x="5" dy="14.7">历史思维能力的培养。通过实践，可见这样的</tspan><tspan x="5" dy="14.7">教学方式在教学中合理的巧用、妙用，能使课</tspan><tspan x="5" dy="14.7">堂教学艺术更加多彩，有画龙点睛、回味无穷</tspan><tspan x="5" dy="14.7">之作用，让学生淡化紧张疲劳，在愉快、欢笑</tspan><tspan x="5" dy="14.7">观念和习惯的转变。重结果轻过程，只看考试</tspan><tspan x="5" dy="14.7">分数，忽视学生对学习过程中的丰富感受和体</tspan><tspan x="5" dy="14.7">验，将不利于激励和引导学生健康发展。过程</tspan><tspan x="5" dy="14.7">评价可以体现在课堂讨论、剧情表演、主题辩</tspan><tspan x="5" dy="14.7">论、学生问答、提纲展示、课堂演讲、社团活</tspan><tspan x="5" dy="14.7">动、社会调查和社会考察等各种各样的活动中</tspan><tspan x="5" dy="14.7">，评价的及时性将给学生参与学习的过程添注</tspan><tspan x="5" dy="14.7">了积极动力，非常有益于提高学生自主学习、</tspan><tspan x="5" dy="14.7">探究学习、合作学习的效能。</tspan></text></g>
<g id="b4_s3a" transform="translate(1959,2455)"><rect class="bg" width="240" height="143.3" rx="4"/><text class="t tg" y="17.3"><tspan x="5">这是落实学生主体地位的又一重要体现。互动</tspan><tspan x="5" dy="14.7">包括师生互动和生生互动，需要学生的团队协</tspan><tspan x="5" dy="14.7">作精神，增强沟通交流。能实现教学相长的良</tspan><tspan x="5" dy="14.7">性循环，培养和谐的新型师生关系，有力地推</tspan><tspan x="5" dy="14.7">动教学质量的提高。对于以学生为主体的教学</tspan><tspan x="5" dy="14.7">模式，需要新的评价。拓展评价标准，全面考</tspan><tspan x="5" dy="14.7">察学生的学习状况，激励学生的学习热情，促</tspan><tspan x="5" dy="14.7">进学生全面发展，这也是作为教师改进教学的</tspan><tspan x="5" dy="14.7">有力手段。</tspan></text></g>
<g id="b4_s4" transform="translate(1821,2624)"><rect class="bg" width="240" height="172.7" rx="4"/><text class="t tg" y="17.3"><tspan x="5">(4)强化德育、全面发展是贯彻新课改教学的</tspan><tspan x="5" dy="14.7">目标历史新课标明确提出：历史课程"必须全</tspan><tspan x="5" dy="14.7">面实现教育功能，在提高现代公民的人文素质</tspan><tspan x="5" dy="14.7">方面发挥重要作用"。适时地结合教学内容，</tspan><tspan x="5" dy="14.7">借助各种手段"润物细无声"地对学生进行爱国</tspan><tspan x="5" dy="14.7">、爱社会主义等德育及非智力因素的开发，包</tspan><tspan x="5" dy="14.7">括意志、理想、人格，心理健康教育等的培养</tspan><tspan x="5" dy="14.7">，全面激发学生的学习兴趣，提高学生的道德</tspan><tspan x="5" dy="14.7">、知识等综合素质，真正发挥历史学科在学生</tspan><tspan x="5" dy="14.7">全面教育中应有的、潜在的积极作用，让学生</tspan><tspan x="5" dy="14.7">学会立品、做人、做事。</tspan></text></g>
<g id="b4_s5a" transform="translate(2005,2822)"><rect class="bg" width="240" height="187.4" rx="4"/><text class="t tg" y="17.3"><tspan x="5">面对新课程，历史教师要以"博"、"精"作为自</tspan><tspan x="5" dy="14.7">己提高自身素质，适应历史教学改革和当今新</tspan><tspan x="5" dy="14.7">形势的基本要求和目标。一要拥有广博的知识</tspan><tspan x="5" dy="14.7">。作为一名教师，必须有扎实的学科专业知识</tspan><tspan x="5" dy="14.7">，否则是不可能教好该学科课程的。为了激发</tspan><tspan x="5" dy="14.7">学生对本学科学习的兴趣，拓展学生对本学科</tspan><tspan x="5" dy="14.7">的更深刻、更广泛的认识，教师还应对本学科</tspan><tspan x="5" dy="14.7">的发展史及其发展的前沿知识有一定的了解。</tspan><tspan x="5" dy="14.7">除了扎实的专业知识外，还要有较为广博的文</tspan><tspan x="5" dy="14.7">化知识，尤其是地理学和文学。二要掌握一定</tspan><tspan x="5" dy="14.7">的现代教育技术。历史学是一门综合性极强，</tspan><tspan x="5" dy="14.7">涉及内容极广，跨度极大的学科。</tspan></text></g>
<g id="b4_s5b" transform="translate(2005,3035)"><rect class="bg" width="240" height="128.6" rx="4"/><text class="t tg" y="17.3"><tspan x="5">而新课程的标准里面的模块几乎都是以专题的</tspan><tspan x="5" dy="14.7">形式出现，黑板+粉笔的传统教学模式很难把</tspan><tspan x="5" dy="14.7">这些知识传递给学生。借用多媒体则可以做到</tspan><tspan x="5" dy="14.7">这一点。多媒体可以将文本、图像、动画、视</tspan><tspan x="5" dy="14.7">频等多种信息组织起来，可以激发兴趣，活跃</tspan><tspan x="5" dy="14.7">课堂;培养学生自主学习和阅读、分析、运用</tspan><tspan x="5" dy="14.7">的能力;也便于通过创设情境激发学生自已提</tspan><tspan x="5" dy="14.7">出问题。</tspan></text></g>
<g id="b4_s5c" transform="translate(2005,3188)"><rect class="bg" width="240" height="99.2" rx="4"/><text class="t tg" y="17.3"><tspan x="5">因此，要改变以往手抄式备课为电子备课。在</tspan><tspan x="5" dy="14.7">教学手段的选择上不能片面追求形式，而应该</tspan><tspan x="5" dy="14.7">以提高教学质量为目的，在大力推进现代信息</tspan><tspan x="5" dy="14.7">技术在教学过程中运用的同时继续挖掘和发挥</tspan><tspan x="5" dy="14.7">传统教学方法的积极作用，实现现代信息技术</tspan><tspan x="5" dy="14.7">与传统教学手段的交互渗透和互相补充。</tspan></text></g>
<g id="b4_s5d" transform="translate(2005,3313)"><rect class="bg" width="240" height="113.9" rx="4"/><text class="t tg" y="17.3"><tspan x="5">综上所述，高中历史新课程的实施，对高中历</tspan><tspan x="5" dy="14.7">史教师提出了更高的要求。要更新教学观念，</tspan><tspan x="5" dy="14.7">采用灵活的教学方法，不断反思，真正培养学</tspan><tspan x="5" dy="14.7">生的创新能力。只有看清问题，才能坚定前进</tspan><tspan x="5" dy="14.7">的方向，才知道该怎么做。我们只能在充满矛</tspan><tspan x="5" dy="14.7">盾的现实中寻找出路，用智慧去化解难题，用</tspan><tspan x="5" dy="14.7">机智去逾越障碍，用改革去实现目标!</tspan></text></g>

<!-- Branch 5 -->
<g id="b5_intro" transform="translate(573,2507)"><rect class="bp" width="239" height="128.6" rx="4"/><text class="t tp" y="17.3"><tspan x="5">我作为一名高一历史教师，自参加工作以来，</tspan><tspan x="5" dy="14.7">在学校领导的大力关怀下，在历史教研组经验</tspan><tspan x="5" dy="14.7">丰富的老教师的"传，帮，带"帮助下，我的各</tspan><tspan x="5" dy="14.7">方面的能力得到了提高，专业也得到了成长。</tspan><tspan x="5" dy="14.7">这学期我担任高一4个班的历史教学工作。我</tspan><tspan x="5" dy="14.7">对教学工作不敢怠慢，认真学习教育理论，不</tspan><tspan x="5" dy="14.7">断深入研究教法，虚心向前辈学习。经过一个</tspan><tspan x="5" dy="14.7">学期的努力，获取了很多宝贵的教学经验。</tspan></text></g>
<g id="b5_2" transform="translate(618,2661)"><rect class="bp" width="194" height="26" rx="4"/><text class="t tp" x="6" y="17.3">以下是我在本学期的教学情况总结：</text></g>
<g id="b5_3" transform="translate(722,2712)"><rect class="bp" width="90" height="26" rx="4"/><text class="t tp" x="6" y="17.3">一，教学情况：</text></g>
<g id="b5_4" transform="translate(573,3103)"><rect class="bp" width="239" height="113.9" rx="4"/><text class="t tp" y="17.3"><tspan x="5">教学就是教与学，两者是相互联系，不可分割</tspan><tspan x="5" dy="14.7">的，有教者就必然有学者。学生是学习的主体</tspan><tspan x="5" dy="14.7">。因此，了解和分析学生情况，这对教学成功</tspan><tspan x="5" dy="14.7">与否至关重要。最初接触教学的时候，我还不</tspan><tspan x="5" dy="14.7">懂得了解学生对教学的重要性，只是专心研究</tspan><tspan x="5" dy="14.7">书本、教材，想方设法令课堂生动，学生不易</tspan><tspan x="5" dy="14.7">接受。在教学的过程中我逐渐认识到：</tspan></text></g>
<g id="b5_4a" transform="translate(311,2762)"><rect class="bp" width="240" height="128.6" rx="4"/><text class="t tp" y="17.3"><tspan x="5">一方面，学生初中不重视历史学习，而且是开</tspan><tspan x="5" dy="14.7">卷考试，学生的历史基础相对较弱，到了高中</tspan><tspan x="5" dy="14.7">学生还有些不适应，初中的观念加上高中课程</tspan><tspan x="5" dy="14.7">很多以及重理轻文观念的影响，想学生投入学</tspan><tspan x="5" dy="14.7">历史的确有些难度;另一方面，有些同学比较</tspan><tspan x="5" dy="14.7">活跃，上课气氛积极，但中等生、差生占较大</tspan><tspan x="5" dy="14.7">多数，尖子生相对较少。讲得太深，较多同学</tspan><tspan x="5" dy="14.7">接受不了，所以说没有照顾到整体。</tspan></text></g>
<g id="b5_4b" transform="translate(311,2915)"><rect class="bp" width="240" height="99.2" rx="4"/><text class="t tp" y="17.3"><tspan x="5">我备课时也较少注意到这点，因此教学效果有</tspan><tspan x="5" dy="14.7">时不太理想。从此可以看出，了解及分析学生</tspan><tspan x="5" dy="14.7">实际情况，实事求是，具体问题具体分析，做</tspan><tspan x="5" dy="14.7">到因材施教，对授课效果有直接影响。这就是</tspan><tspan x="5" dy="14.7">教育学中提到的"备教法的同时要备学生"。这</tspan><tspan x="5" dy="14.7">一理论在我的教学实践中得到了验证。</tspan></text></g>
<g id="b5_4c" transform="translate(311,3041)"><rect class="bp" width="240" height="128.6" rx="4"/><text class="t tp" y="17.3"><tspan x="5">教学中，备课是一个必不可少，十分重要的环</tspan><tspan x="5" dy="14.7">节，备学生，又要备教法。备课不充分或者备</tspan><tspan x="5" dy="14.7">得不好，会严重影响课堂气氛和积极性，曾经</tspan><tspan x="5" dy="14.7">有一位前辈对我说："备课备不好，倒不如不</tspan><tspan x="5" dy="14.7">上课，否则就是白费心机。"我明白到备课的</tspan><tspan x="5" dy="14.7">重要性，因此，每天我都认认真真地备课，钻</tspan><tspan x="5" dy="14.7">研教材和教法。虽然辛苦，但事实证明是值得</tspan><tspan x="5" dy="14.7">的。</tspan></text></g>
<g id="b5_4d" transform="translate(311,3194)"><rect class="bp" width="240" height="99.2" rx="4"/><text class="t tp" y="17.3"><tspan x="5">除此之外，在教学中，我特别注重教书与育人</tspan><tspan x="5" dy="14.7">相结合。在业余时间，看一些有关师德方面的</tspan><tspan x="5" dy="14.7">书，拓宽自己的业余知识。在教学中，我不仅</tspan><tspan x="5" dy="14.7">要教学生会学，还要教学生学会做人。给学生</tspan><tspan x="5" dy="14.7">爱和鼓励，让学生在爱的沐浴下健康、快乐的</tspan><tspan x="5" dy="14.7">成长，步步提高。</tspan></text></g>
<g id="b5_5" transform="translate(459,3479)"><rect class="bp" width="92" height="26" rx="4"/><text class="t tp" x="6" y="17.3">二、教研情况：</text></g>
<g id="b5_5a" transform="translate(198,3318)"><rect class="bp" width="240" height="84.5" rx="4"/><text class="t tp" y="17.3"><tspan x="5">本人积极参加学校各项教研活动，主动和前辈</tspan><tspan x="5" dy="14.7">学习，各尽所能，共同探讨新教材。本人坚持</tspan><tspan x="5" dy="14.7">听课并做好记录，写好教案。积极参加学校为</tspan><tspan x="5" dy="14.7">新教师组织的培训活动，并且积极参与名师公</tspan><tspan x="5" dy="14.7">开课的学习，收获不少。</tspan></text></g>
<g id="b5_5b" transform="translate(198,3428)"><rect class="bp" width="240" height="128.6" rx="4"/><text class="t tp" y="17.3"><tspan x="5">在向本学科及其它学科和班主任的请教中钻研</tspan><tspan x="5" dy="14.7">教学方法，学生学法，教学管理，教学组织等</tspan><tspan x="5" dy="14.7">等，这些都对于教学工作有很大的帮助。同时</tspan><tspan x="5" dy="14.7">平时还注意在网上搜寻与教学相关的资料课件</tspan><tspan x="5" dy="14.7">，听网络课程，努力充实课堂。在给学生讲解</tspan><tspan x="5" dy="14.7">练习之前先就自己不是很明白的问题向组内老</tspan><tspan x="5" dy="14.7">师请教或上网查资料解决，就知识，方法，技</tspan><tspan x="5" dy="14.7">巧，思维等给学生予以指导。</tspan></text></g>
<g id="b5_5c" transform="translate(198,3582)"><rect class="bp" width="240" height="84.5" rx="4"/><text class="t tp" y="17.3"><tspan x="5">本人深知"学习无止境"，教学工作也是如此。</tspan><tspan x="5" dy="14.7">所以，在今后的历史教学中，本人将继续努力</tspan><tspan x="5" dy="14.7">，提高自身教育教学素质和教学水平，更多的</tspan><tspan x="5" dy="14.7">积累先进的教育教学理念，以更好的适应未来</tspan><tspan x="5" dy="14.7">的挑战。</tspan></text></g>

<!-- Related links -->
<g id="l1" transform="translate(1731,3452)"><rect class="bb" width="212" height="26" rx="4"/><text class="t tb" x="6" y="17.3">★ 高一历史教师教学工作总结与反思5篇</text></g>
<g id="l2" transform="translate(1731,3502)"><rect class="bb" width="235" height="26" rx="4"/><text class="t tb" x="6" y="17.3">★ 关于高一历史个人教学工作总结及感悟5篇</text></g>
<g id="l3" transform="translate(1731,3552.5)"><rect class="bb" width="210" height="26" rx="4"/><text class="t tb" x="6" y="17.3">★ 高一历史教师期末教学工作总结2021</text></g>
<g id="l4" transform="translate(1731,3603)"><rect class="bb" width="178" height="26" rx="4"/><text class="t tb" x="6" y="17.3">★ 高中历史教学工作总结范文5篇</text></g>
<g id="l5" transform="translate(1731,3654)"><rect class="bb" width="200" height="26" rx="4"/><text class="t tb" x="6" y="17.3">★ 关于中学历史教学工作经验总结5篇</text></g>
<g id="l6" transform="translate(1731,3705)"><rect class="bb" width="194" height="26" rx="4"/><text class="t tb" x="6" y="17.3">★ 优秀高中历史备课组教学工作总结</text></g>
<g id="l7" transform="translate(1731,3755.5)"><rect class="bb" width="178" height="26" rx="4"/><text class="t tb" x="6" y="17.3">★ 关于期末历史教学工作总结5篇</text></g>
<g id="l8" transform="translate(1731,3806)"><rect class="bb" width="205" height="26" rx="4"/><text class="t tb" x="6" y="17.3">★ 2021高中历史学科教学总结报告5篇</text></g>
<g id="l9" transform="translate(1731,3857)"><rect class="bb" width="217" height="26" rx="4"/><text class="t tb" x="6" y="17.3">★ 关于高中历史教学工作计划总结及反思</text></g>
<g id="l10" transform="translate(1731,3908)"><rect class="bb" width="175" height="26" rx="4"/><text class="t tb" x="6" y="17.3">★ 历史教学工作总结与反思2021</text></g>
</svg>
